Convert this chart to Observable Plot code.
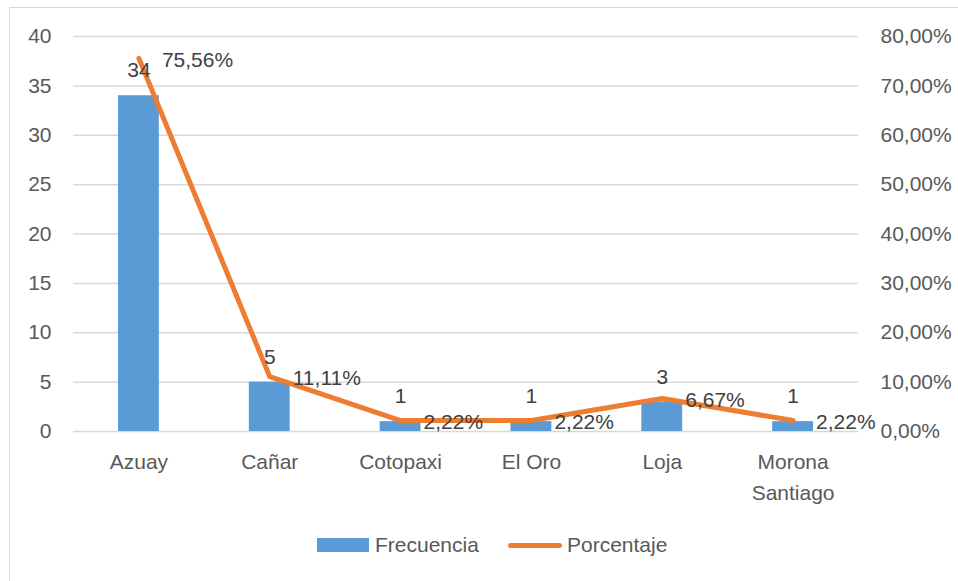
<!DOCTYPE html>
<html>
<head>
<meta charset="utf-8">
<script src="https://cdn.jsdelivr.net/npm/d3@7"></script>
<script src="https://cdn.jsdelivr.net/npm/@observablehq/plot@0.6"></script>
<style>
  html, body { margin: 0; padding: 0; background: #fff; width: 958px; height: 581px; overflow: hidden; }
  #frame { position: absolute; left: 9px; top: 7px; width: 980px; height: 620px; border: 1.5px solid #d9d9d9; box-sizing: border-box; }
  #chart { position: absolute; left: 0; top: 0; }
  #legend { position: absolute; left: 0; top: 530px; width: 958px; height: 30px; font-family: "Liberation Sans", Arial, sans-serif; font-size: 21px; color: #595959; }
  .sw { position: absolute; }
  .lbl { position: absolute; top: 3px; line-height: 24px; }
</style>
</head>
<body>
<div id="frame"></div>
<div id="chart"></div>
<div id="legend"></div>
<script>
const categories = ["Azuay", "Cañar", "Cotopaxi", "El Oro", "Loja", "Morona Santiago"];
const frecuencia = [34, 5, 1, 1, 3, 1];
const porcentaje = [75.56, 11.11, 2.22, 2.22, 6.67, 2.22];
const porcentajeLabels = ["75,56%", "11,11%", "2,22%", "2,22%", "6,67%", "2,22%"];
const yTicks = [0, 5, 10, 15, 20, 25, 30, 35, 40];
const pctTicks = ["0,00%", "10,00%", "20,00%", "30,00%", "40,00%", "50,00%", "60,00%", "70,00%", "80,00%"];
const seriesNames = ["Frecuencia", "Porcentaje"];
const colors = ["#5B9BD5", "#ED7D31"];

const data = categories.map((c, i) => ({cat: c, f: frecuencia[i], p: porcentaje[i] / 2, pl: porcentajeLabels[i]}));

const font = "Liberation Sans, Arial, sans-serif";

const chart = Plot.plot({
  width: 958,
  height: 520,
  marginLeft: 73,
  marginRight: 100,
  marginTop: 36,
  marginBottom: 89,
  style: {fontFamily: font, fontSize: "21px", color: "#595959", background: "transparent"},
  x: {domain: categories, padding: 0, round: false, axis: null},
  y: {domain: [0, 40], axis: null},
  marks: [
    Plot.gridY(yTicks, {stroke: "#d9d9d9", strokeOpacity: 1, strokeWidth: 1.5}),
    Plot.barY(data, {x: "cat", y: "f", fill: colors[0], insetLeft: 45, insetRight: 45}),
    Plot.lineY(data, {x: "cat", y: "p", stroke: colors[1], strokeWidth: 5, strokeLinejoin: "round", strokeLinecap: "round"}),
    Plot.text(data, {x: "cat", y: "f", text: d => String(d.f), dy: -25, fill: "#404040", fontSize: 21}),
    Plot.text(data, {x: "cat", y: "p", text: "pl", dx: 23, dy: 2, textAnchor: "start", fill: "#404040", fontSize: 21}),
    Plot.axisY(yTicks, {anchor: "left", tickSize: 0, tickPadding: 22, fontSize: 21, label: null}),
    Plot.axisY(yTicks, {anchor: "right", tickSize: 0, tickPadding: 22, fontSize: 21, label: null, tickFormat: d => pctTicks[yTicks.indexOf(d)]}),
    Plot.axisX({tickSize: 0, tickPadding: 16, fontSize: 21, lineWidth: 6, lineHeight: 1.45, label: null})
  ]
});
document.getElementById("chart").appendChild(chart);

const legend = document.getElementById("legend");
legend.innerHTML = `
  <div class="sw" style="left:317px; top:8px; width:52px; height:14px; background:${colors[0]}"></div>
  <div class="lbl" style="left:375px">${seriesNames[0]}</div>
  <div class="sw" style="left:508px; top:12.5px; width:54px; height:5px; border-radius:3px; background:${colors[1]}"></div>
  <div class="lbl" style="left:567px">${seriesNames[1]}</div>
`;
</script>
</body>
</html>
